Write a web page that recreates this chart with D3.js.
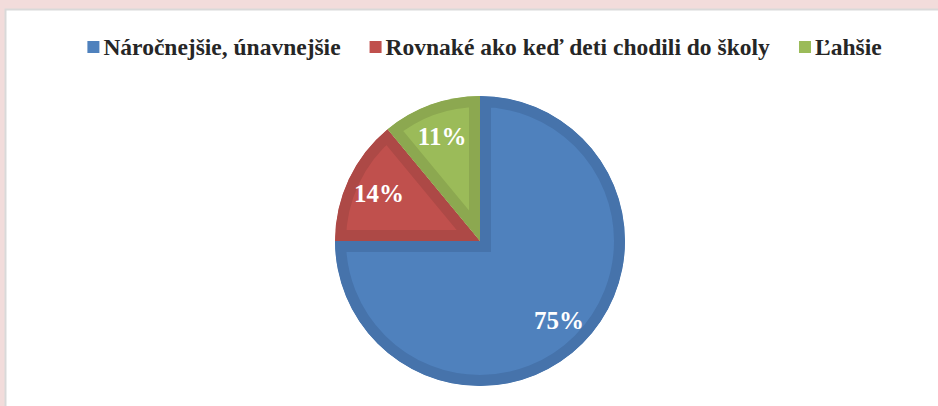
<!DOCTYPE html>
<html>
<head>
<meta charset="utf-8">
<script src="https://cdn.jsdelivr.net/npm/d3@7"></script>
<style>
  body { margin: 0; background: #f2dcdb; }
  svg { display: block; }
</style>
</head>
<body>
<svg></svg>
<script>
const categories = ["Náročnejšie, únavnejšie", "Rovnaké ako keď deti chodili do školy", "Ľahšie"],
  values = [75, 14, 11],
  labels = ["75%", "14%", "11%"],
  fills = ["#4f81bd", "#c0504d", "#9bbb59"],
  borders = ["#4673ab", "#ad4946", "#8ca850"],
  W = 938,
  H = 406,
  cx = 480,
  cy = 241,
  r = 145;

var svg = d3.select("svg").attr("width", W).attr("height", H);

// white panel with grey edge
svg.append("rect")
  .attr("x", 5.5).attr("y", 9.5)
  .attr("width", W).attr("height", H)
  .attr("fill", "#fff")
  .attr("stroke", "#d9d9d9")
  .attr("stroke-width", 2);

var pie = d3.pie().sort(null).value(d => d);
var arc = d3.arc().innerRadius(0).outerRadius(r);
var labelArc = d3.arc().innerRadius(r * 0.77).outerRadius(r * 0.77);

var arcs = pie(values);
var defs = svg.append("defs");
var g = svg.append("g").attr("transform", "translate(" + cx + "," + cy + ")");

arcs.forEach((d, i) => {
  defs.append("clipPath").attr("id", "clip" + i)
    .append("path").attr("d", arc(d));
  // inner bevel: double width stroke clipped to the slice
  g.append("path")
    .attr("d", arc(d))
    .attr("fill", fills[i])
    .attr("stroke", borders[i])
    .attr("stroke-width", 22)
    .attr("stroke-linejoin", "miter")
    .attr("clip-path", "url(#clip" + i + ")");
});

g.selectAll("text.lbl")
  .data(arcs)
  .enter()
  .append("text")
  .attr("class", "lbl")
  .attr("transform", d => "translate(" + labelArc.centroid(d) + ")")
  .attr("text-anchor", "middle")
  .attr("dy", "0.35em")
  .attr("font-family", "Liberation Serif")
  .attr("font-weight", "bold")
  .attr("font-size", 25)
  .attr("fill", "#fff")
  .text((d, i) => labels[i]);

// legend
var legend = svg.append("g").attr("transform", "translate(0,47)");
var items = legend.selectAll("g")
  .data(categories)
  .enter()
  .append("g");
items.append("rect")
  .attr("y", -6).attr("width", 12).attr("height", 12)
  .attr("fill", (d, i) => fills[i]);
items.append("text")
  .attr("x", 16)
  .attr("dy", "0.35em")
  .attr("font-family", "Liberation Serif")
  .attr("font-weight", "bold")
  .attr("font-size", 23.5)
  .attr("fill", "#262626")
  .text(d => d);

var gap = 29, widths = [];
items.each(function () { widths.push(this.getBBox().width); });
var total = d3.sum(widths) + gap * (widths.length - 1),
  xPos = 484.5 - total / 2;
items.attr("transform", (d, i) => {
  var t = "translate(" + xPos + ",0)";
  xPos += widths[i] + gap;
  return t;
});
</script>
</body>
</html>
